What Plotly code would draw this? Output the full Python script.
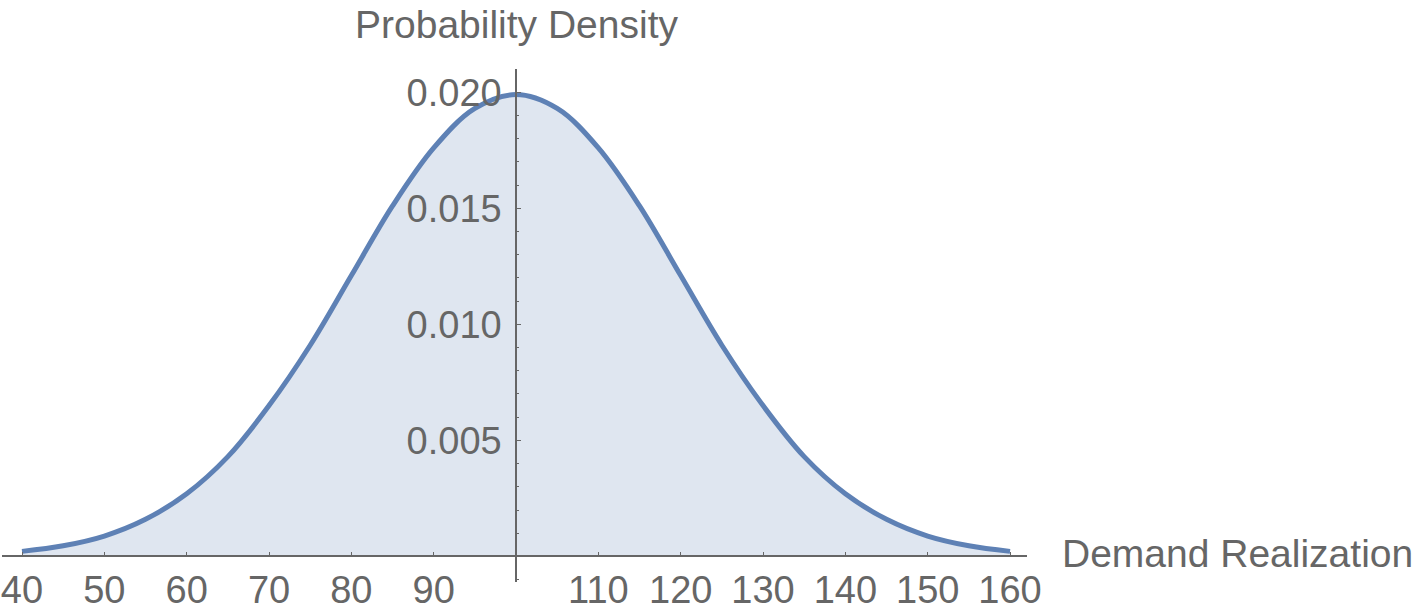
import plotly.graph_objects as go

# values
demand = [40, 45, 50, 55, 60, 65, 70, 75, 80, 85, 90, 95, 100,
          105, 110, 115, 120, 125, 130, 135, 140, 145, 150, 155, 160]
density = [0.00022, 0.00046, 0.00088, 0.0016, 0.0027, 0.0043, 0.0065,
           0.0091, 0.0121, 0.0151, 0.0176, 0.0193, 0.0199,
           0.0193, 0.0176, 0.0151, 0.0121, 0.0091, 0.0065, 0.0043,
           0.0027, 0.0016, 0.00088, 0.00046, 0.00022]

x_ticks = [40, 50, 60, 70, 80, 90, 110, 120, 130, 140, 150, 160]
y_ticks = [0.005, 0.010, 0.015, 0.020]

grey = "#666666"
blue = "#5E81B5"
family = "Arial, 'Liberation Sans', sans-serif"

fig = go.Figure()
fig.add_trace(
    go.Scatter(
        x=demand,
        y=density,
        mode="lines",
        line=dict(color=blue, width=5, shape="spline"),
        fill="tozeroy",
        fillcolor="rgba(94,129,181,0.2)",
        hoverinfo="skip",
    )
)

x_range = [37.57, 162.06]
y_range = [-0.0011, 0.021]

fig.update_layout(
    width=1419,
    height=615,
    margin=dict(l=2, r=392, t=69, b=33),
    plot_bgcolor="white",
    paper_bgcolor="white",
    showlegend=False,
    font=dict(family=family, color=grey),
    xaxis=dict(
        range=x_range,
        showgrid=False,
        zeroline=False,
        showline=True,
        linecolor=grey,
        linewidth=1.5,
        anchor="free",
        position=(0 - y_range[0]) / (y_range[1] - y_range[0]),
        tickmode="array",
        tickvals=x_ticks,
        ticktext=[str(v) for v in x_ticks],
        ticks="inside",
        ticklen=4,
        tickcolor=grey,
        tickfont=dict(family=family, size=38, color=grey),
    ),
    yaxis=dict(
        range=y_range,
        showgrid=False,
        zeroline=False,
        showline=True,
        linecolor=grey,
        linewidth=1.5,
        anchor="free",
        position=(100 - x_range[0]) / (x_range[1] - x_range[0]),
        tickmode="array",
        tickvals=y_ticks,
        ticktext=["%.3f" % v for v in y_ticks],
        ticks="inside",
        ticklen=4,
        tickcolor=grey,
        ticklabelstandoff=6,
        tickfont=dict(family=family, size=38, color=grey),
        minor=dict(tickmode="linear", tick0=0, dtick=0.001, ticks="inside",
                   ticklen=2.5, tickcolor=grey),
    ),
)

fig.add_annotation(
    text="Probability Density",
    xref="paper", yref="paper",
    x=(100 - x_range[0]) / (x_range[1] - x_range[0]), y=1.086,
    xanchor="center", yanchor="middle",
    showarrow=False,
    font=dict(family=family, size=39, color=grey),
)
fig.add_annotation(
    text="Demand Realization",
    xref="paper", yref="paper",
    x=1.032, y=0.056,
    xanchor="left", yanchor="middle",
    showarrow=False,
    font=dict(family=family, size=39, color=grey),
)

fig.write_html("out.html", config={"displayModeBar": False},
               post_script="document.body.style.margin='0';")
